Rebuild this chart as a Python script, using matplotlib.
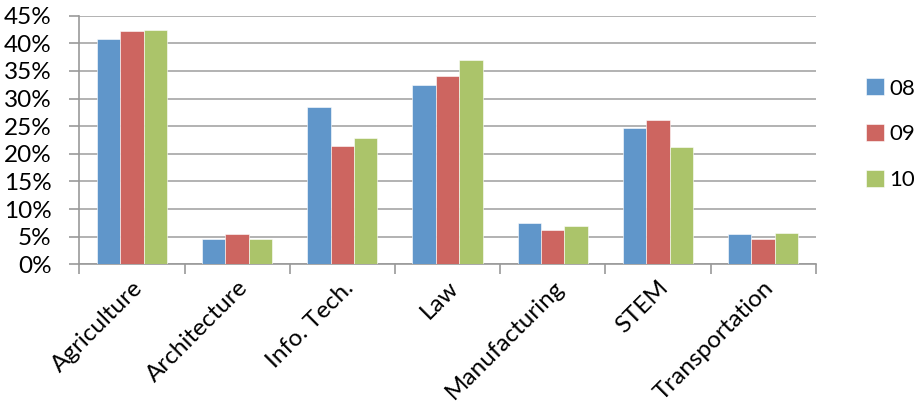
import matplotlib.pyplot as plt
import numpy as np
from matplotlib.ticker import PercentFormatter

categories = ["Agriculture", "Architecture", "Info. Tech.", "Law",
              "Manufacturing", "STEM", "Transportation"]
series_names = ["08", "09", "10"]
vals_08 = [40.7, 4.5, 28.4, 32.4, 7.5, 24.6, 5.5]
vals_09 = [42.2, 5.5, 21.5, 34.1, 6.3, 26.2, 4.5]
vals_10 = [42.4, 4.6, 22.9, 37.0, 6.9, 21.2, 5.6]
colors = ["#6096CA", "#CD6560", "#ABC46A"]

plt.rcParams['font.family'] = ['Lato', 'DejaVu Sans']
fs = 17.5

fig = plt.figure(figsize=(9.19, 4.13), dpi=100)
ax = fig.add_axes([0.0863, 0.36, 0.8013, 0.602])

x = np.arange(len(categories))
w = 0.222
for k, (name, vals) in enumerate(zip(series_names, [vals_08, vals_09, vals_10])):
    ax.bar(x + (k - 1) * w, vals, width=w, color=colors[k], label=name,
           edgecolor="white", linewidth=0.4, zorder=3)

ax.set_xlim(-0.5, len(categories) - 0.5)
ax.set_ylim(0, 45)
ax.set_yticks(np.arange(0, 46, 5))
ax.yaxis.set_major_formatter(PercentFormatter(decimals=0))
ax.grid(axis="y", color="#a6a6a6", linewidth=1.2, zorder=0)

# category ticks sit between groups
ax.set_xticks(np.arange(-0.5, len(categories), 1))
ax.set_xticklabels([])
ax.set_xticks(x, minor=True)
ax.set_xticklabels(categories, minor=True, rotation=45, ha="right",
                   rotation_mode="anchor", fontsize=fs)
ax.tick_params(axis="x", which="minor", length=0, pad=9)
ax.tick_params(axis="x", which="major", length=7, width=1.2, color="#999999")
ax.tick_params(axis="y", length=7, width=1.2, color="#999999", labelsize=fs, pad=13)

for s in ["top", "right"]:
    ax.spines[s].set_visible(False)
for s in ["left", "bottom"]:
    ax.spines[s].set_color("#999999")
    ax.spines[s].set_linewidth(1.2)

fig.legend(*ax.get_legend_handles_labels(), loc="center left",
           bbox_to_anchor=(866 / 919, 0.675), frameon=False,
           fontsize=16, handlelength=0.8, handleheight=0.8, handletextpad=0.25,
           labelspacing=1.15, borderpad=0, borderaxespad=0)

fig.savefig("out.png", dpi=100)
